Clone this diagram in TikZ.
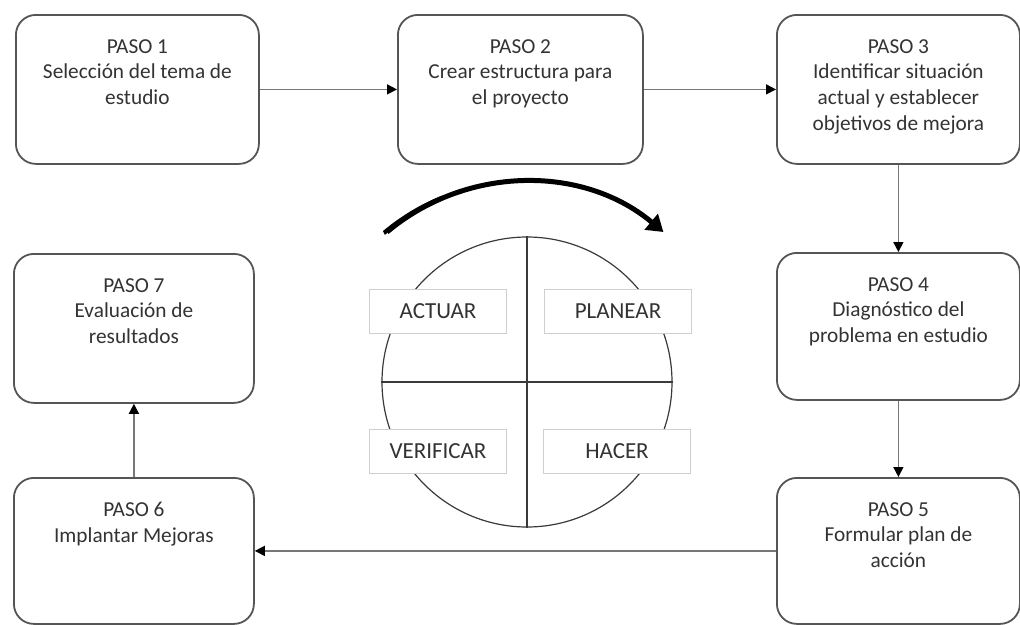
\documentclass[tikz,border=0pt]{standalone}
\usepackage{fontspec}
\setmainfont{Carlito}
\usetikzlibrary{arrows.meta}
\definecolor{boxline}{HTML}{555555}
\definecolor{txt}{HTML}{333333}
\definecolor{conn}{HTML}{777777}
\definecolor{tagline}{HTML}{CFCFCF}
\definecolor{ring}{HTML}{3A3A3A}
\begin{document}
\begin{tikzpicture}[x=1pt,y=1pt,
  stepbox/.style={draw=boxline, line width=1.8pt, rounded corners=20pt,
    minimum width=243pt, minimum height=149pt, inner sep=0pt, anchor=north west},
  steptext/.style={text=txt, align=center, anchor=north, inner sep=0pt,
    font=\fontsize{21.3}{25.7}\selectfont},
  flow/.style={draw=conn, line width=1.5pt,
    -{Triangle[length=10pt,width=10pt,color=black]}},
  tag/.style={draw=tagline, line width=1pt, fill=white, minimum height=44pt,
    inner sep=0pt, text=txt, font=\fontsize{23}{27}\selectfont}]
\useasboundingbox (0,0) rectangle (1020,-624);

% step boxes
\node[stepbox] (p1) at (15,-14) {};
\node[stepbox, minimum width=245pt] (p2) at (397,-14) {};
\node[stepbox] (p3) at (776,-14) {};
\node[stepbox, minimum height=147pt] (p4) at (776,-252) {};
\node[stepbox, minimum height=146pt] (p5) at (776,-477) {};
\node[stepbox, minimum width=240pt, minimum height=146pt] (p6) at (13,-477) {};
\node[stepbox, minimum width=240pt] (p7) at (13,-253) {};

% step texts
\node[steptext] (t1) at ([yshift=-25pt]p1.north) {PASO 1\\Selección del tema de\\estudio};
\node[steptext] (t2) at ([yshift=-25pt]p2.north) {PASO 2\\Crear estructura para\\el proyecto};
\node[steptext] (t3) at ([yshift=-25pt]p3.north) {PASO 3\\Identificar situación\\actual y establecer\\objetivos de mejora};
\node[steptext] (t4) at ([yshift=-25pt]p4.north) {PASO 4\\Diagnóstico del\\problema en estudio};
\node[steptext] (t5) at ([yshift=-25pt]p5.north) {PASO 5\\Formular plan de\\acción};
\node[steptext] (t6) at ([yshift=-25pt]p6.north) {PASO 6\\Implantar Mejoras};
\node[steptext] (t7) at ([yshift=-25pt]p7.north) {PASO 7\\Evaluación de\\resultados};

% flow between steps
\draw[flow] (p1.east) -- (p2.west);
\draw[flow] (p2.east) -- (p3.west);
\draw[flow] (p3.south) -- (p4.north);
\draw[flow] (p4.south) -- (p5.north);
\draw[flow] (p5.west) -- (p6.east);
\draw[flow] (p6.north) -- (p7.south);

% PDCA wheel
\node[circle, draw=ring, line width=1.2pt, minimum size=290pt, inner sep=0pt] (cyc) at (527,-382) {};
\draw[ring, line width=1.2pt] (cyc.north) -- (cyc.south);
\draw[ring, line width=1.2pt] (cyc.west) -- (cyc.east);

\node[tag, minimum width=137pt] (act) at (438,-311) {ACTUAR};
\node[tag, minimum width=147pt] (pla) at (618,-311) {PLANEAR};
\node[tag, minimum width=137pt] (ver) at (438,-451.5) {VERIFICAR};
\node[tag, minimum width=147pt] (hac) at (617,-451.5) {HACER};

% rotation arrow above the wheel
\coordinate (rotA) at (387,-232);
\draw[line width=5pt, -{Triangle[length=16pt,width=20pt]}]
  (rotA) arc[start angle=130, end angle=50, radius=215];
\fill (rotA) ++(-4,1) arc[start angle=130, end angle=112, radius=219]
  -- ++(0,-5) arc[start angle=112, end angle=130, radius=212] -- cycle;
\end{tikzpicture}
\end{document}
